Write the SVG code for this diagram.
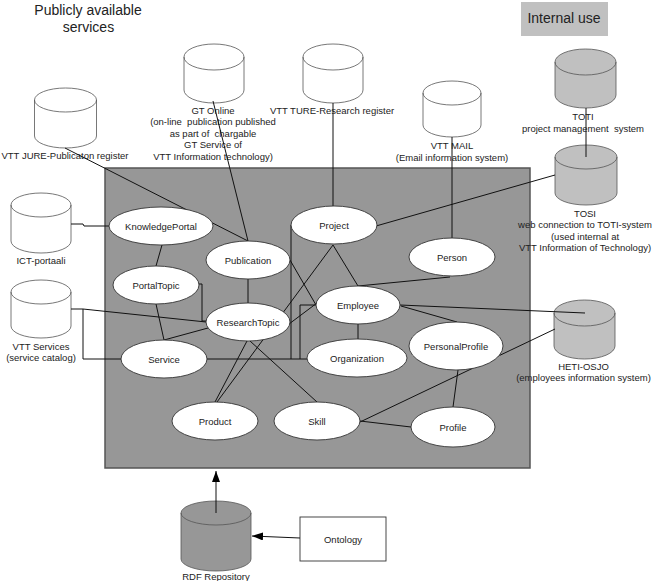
<svg xmlns="http://www.w3.org/2000/svg" width="655" height="581" viewBox="0 0 655 581">
<style>
text{font-family:"Liberation Sans",Arial,sans-serif;font-size:9.5px;fill:#222;text-anchor:middle;white-space:pre}
.title{font-size:14px}
.ell{fill:#fff;stroke:#333;stroke-width:0.9}
.cyl{stroke:#555;stroke-width:0.8}
.w{fill:#fff}
.g{fill:#c0c0c0}
.d{fill:#979797}
.conn{fill:none;stroke:#111;stroke-width:1}
</style>
<defs>
<marker id="arr" markerUnits="userSpaceOnUse" markerWidth="12" markerHeight="10" refX="11" refY="4" orient="auto">
<path d="M0,0 L11,4 L0,8 Z" fill="#000"/>
</marker>
</defs>
<rect id="model-area" x="105" y="168" width="425" height="300" fill="#979797" stroke="#555" stroke-width="1.5"/>
<text class="title" x="88" y="15">Publicly available</text>
<text class="title" x="88.5" y="32">services</text>
<g id="internal-use"><rect x="521" y="2" width="87" height="34" fill="#c0c0c0"/><text class="title" x="564" y="23">Internal use</text></g>

<g id="jure" class="cyl w"><path d="M34.5,100 A31 12 0 0 1 96.5,100 V136 A31 12 0 0 1 34.5,136 Z"/><path d="M34.5,100 A31 12 0 0 0 96.5,100" fill="none"/></g>
<text x="65" y="158.5">VTT JURE-Publicaton register</text>

<g id="gtonline" class="cyl w"><path d="M184,57 A30 13 0 0 1 244,57 V90 A30 13 0 0 1 184,90 Z"/><path d="M184,57 A30 13 0 0 0 244,57" fill="none"/></g>
<text x="213" y="113.5">GT Online</text>
<text x="213" y="125" xml:space="preserve">(on-line  publication published</text>
<text x="213" y="136.5" xml:space="preserve">as part of  chargable</text>
<text x="213" y="148">GT Service of</text>
<text x="213" y="159.5">VTT Information technology)</text>

<g id="ture" class="cyl w"><path d="M303,57 A30 13 0 0 1 363,57 V90 A30 13 0 0 1 303,90 Z"/><path d="M303,57 A30 13 0 0 0 363,57" fill="none"/></g>
<text x="332" y="113.5">VTT TURE-Research register</text>

<g id="vttmail" class="cyl w"><path d="M423,93 A29 12 0 0 1 481,93 V125 A29 12 0 0 1 423,125 Z"/><path d="M423,93 A29 12 0 0 0 481,93" fill="none"/></g>
<text x="452" y="148.5">VTT MAIL</text>
<text x="452" y="160.5">(Email information system)</text>

<g id="toti" class="cyl g"><path d="M555,62 A30.5 13 0 0 1 616,62 V95 A30.5 13 0 0 1 555,95 Z"/><path d="M555,62 A30.5 13 0 0 0 616,62" fill="none"/></g>
<text x="583" y="119.5">TOTI</text>
<text x="583" y="131.5" xml:space="preserve">project management  system</text>

<g id="tosi" class="cyl g"><path d="M555,157 A31 12 0 0 1 617,157 V193 A31 12 0 0 1 555,193 Z"/><path d="M555,157 A31 12 0 0 0 617,157" fill="none"/></g>
<text x="585" y="216.5">TOSI</text>
<text x="585" y="228">web connection to TOTI-system</text>
<text x="585" y="239.5">(used internal at</text>
<text x="585" y="251">VTT Information of Technology)</text>

<g id="heti" class="cyl g"><path d="M554,313 A30.5 13 0 0 1 615,313 V346 A30.5 13 0 0 1 554,346 Z"/><path d="M554,313 A30.5 13 0 0 0 615,313" fill="none"/></g>
<text x="583.5" y="369.5">HETI-OSJO</text>
<text x="583.5" y="381">(employees information system)</text>

<g id="ict" class="cyl w"><path d="M11,205 A30 12 0 0 1 71,205 V241 A30 12 0 0 1 11,241 Z"/><path d="M11,205 A30 12 0 0 0 71,205" fill="none"/></g>
<text x="41" y="263.5">ICT-portaali</text>

<g id="vttservices" class="cyl w"><path d="M11,292 A30 12 0 0 1 71,292 V326 A30 12 0 0 1 11,326 Z"/><path d="M11,292 A30 12 0 0 0 71,292" fill="none"/></g>
<text x="41" y="349.5">VTT Services</text>
<text x="41" y="361">(service catalog)</text>

<g id="rdf" class="cyl d"><path d="M181,513 A35 12 0 0 1 251,513 V559 A35 12 0 0 1 181,559 Z"/><path d="M181,513 A35 12 0 0 0 251,513" fill="none"/></g>
<text x="216" y="580">RDF Repository</text>

<g id="ontology"><rect x="300" y="517" width="86" height="44" fill="#fff" stroke="#333" stroke-width="0.9"/><text x="343" y="542.5">Ontology</text></g>

<g id="connectors" class="conn">
<path d="M65,148 L248,241"/>
<path d="M213,101 L248,241"/>
<path d="M333,103 V206"/>
<path d="M452,137 V238"/>
<path d="M586,108 V157"/>
<path d="M555,175 L376,226"/>
<path d="M71,224 H83 L84,226 H110"/>
<path d="M162,245 L156,266"/>
<path d="M156,304 L164,340"/>
<path d="M199,284 H202 V321 H206"/>
<path d="M248,279 V303"/>
<path d="M71,309 H83 L206,322"/>
<path d="M83,309 V359 H122"/>
<path d="M164,340 L208,328"/>
<path d="M207,359 H307"/>
<path d="M291,225 V359"/>
<path d="M316,305 H300 V359"/>
<path d="M333,245 L217,402"/>
<path d="M290,260 L316,305"/>
<path d="M289,324 L317,303"/>
<path d="M333,245 L358,286"/>
<path d="M450,277 L358,286"/>
<path d="M358,324 V339"/>
<path d="M400,305 L585,313"/>
<path d="M401,306 L457,322"/>
<path d="M555,329 L360,422"/>
<path d="M458,370 L453,407"/>
<path d="M360,421 L411,427"/>
<path d="M250,341 L317,402"/>
<path d="M247,341 L215,402"/>
<path d="M216,513 V471" marker-end="url(#arr)"/>
<path d="M300,538 L252,536" marker-end="url(#arr)"/>
</g>

<g id="KnowledgePortal"><ellipse class="ell" cx="161" cy="226" rx="52" ry="19"/><text x="161" y="229.5">KnowledgePortal</text></g>
<g id="Publication"><ellipse class="ell" cx="248" cy="260" rx="42" ry="19"/><text x="248" y="263.5">Publication</text></g>
<g id="PortalTopic"><ellipse class="ell" cx="156" cy="285" rx="43" ry="19"/><text x="156" y="288.5">PortalTopic</text></g>
<g id="ResearchTopic"><ellipse class="ell" cx="248" cy="322" rx="42" ry="19"/><text x="248" y="325.5">ResearchTopic</text></g>
<g id="Service"><ellipse class="ell" cx="164" cy="359" rx="43" ry="19"/><text x="164" y="362.5">Service</text></g>
<g id="Project"><ellipse class="ell" cx="334" cy="225" rx="43" ry="19"/><text x="334" y="228.5">Project</text></g>
<g id="Person"><ellipse class="ell" cx="452" cy="257" rx="43" ry="19"/><text x="452" y="260.5">Person</text></g>
<g id="Employee"><ellipse class="ell" cx="358" cy="305" rx="42" ry="19"/><text x="358" y="308.5">Employee</text></g>
<g id="Organization"><ellipse class="ell" cx="357" cy="358" rx="50" ry="19"/><text x="357" y="361.5">Organization</text></g>
<g id="PersonalProfile"><ellipse class="ell" cx="456" cy="346" rx="47" ry="24"/><text x="456" y="349.5">PersonalProfile</text></g>
<g id="Product"><ellipse class="ell" cx="215" cy="421" rx="43" ry="19"/><text x="215" y="424.5">Product</text></g>
<g id="Skill"><ellipse class="ell" cx="317" cy="421" rx="43" ry="19"/><text x="317" y="424.5">Skill</text></g>
<g id="Profile"><ellipse class="ell" cx="453" cy="427" rx="42" ry="20"/><text x="453" y="430.5">Profile</text></g>
</svg>
